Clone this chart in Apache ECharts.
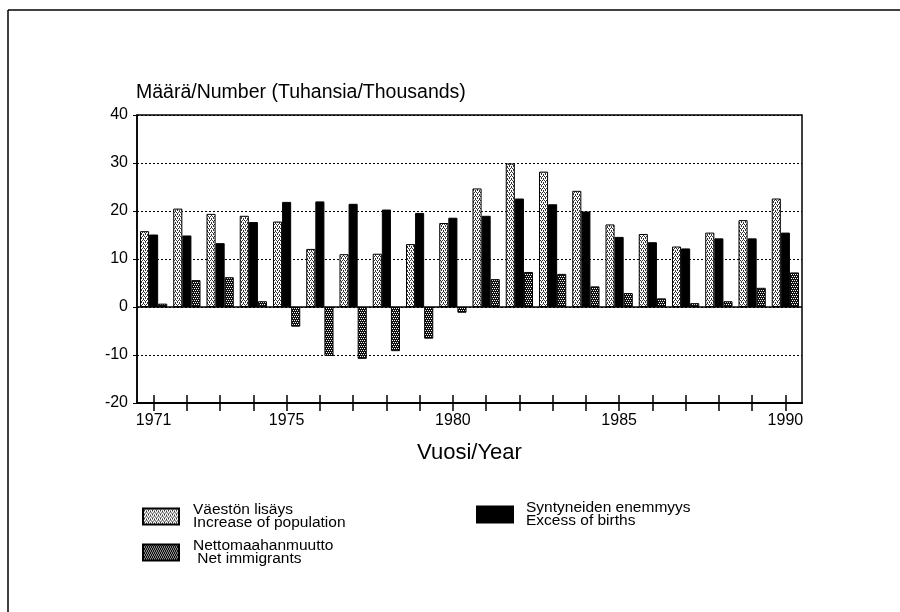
<!DOCTYPE html>
<html>
<head>
<meta charset="utf-8">
<script src="https://cdn.jsdelivr.net/npm/echarts@6/dist/echarts.min.js"></script>
<style>
  html, body { margin: 0; padding: 0; background: #fff; }
  #main { width: 900px; height: 612px; }
</style>
</head>
<body>
<div id="main"></div>
<script>
// vuodet / years
var years = ["1971", "1972", "1973", "1974", "1975", "1976", "1977", "1978", "1979", "1980",
  "1981", "1982", "1983", "1984", "1985", "1986", "1987", "1988", "1989", "1990"];
var labelYears = ["1971", "1975", "1980", "1985", "1990"];

// tuhansia / thousands
var increase = [15.8, 20.5, 19.4, 19.0, 17.8, 12.1, 11.0, 11.1, 13.1, 17.5,
  24.7, 29.9, 28.2, 24.2, 17.2, 15.2, 12.6, 15.5, 18.1, 22.6];
var births = [15.1, 14.9, 13.3, 17.7, 21.9, 22.0, 21.5, 20.3, 19.6, 18.6,
  19.0, 22.6, 21.4, 19.9, 14.6, 13.5, 12.2, 14.3, 14.3, 15.5];
var netImm = [0.7, 5.6, 6.2, 1.2, -4.1, -10.2, -10.8, -9.2, -6.6, -1.2,
  5.8, 7.3, 6.9, 4.3, 2.9, 1.8, 0.8, 1.2, 4.0, 7.2];

var yMin = -20, yMax = 40, yStep = 10;

var names = ["Väestön lisäys", "Syntyneiden enemmyys", "Nettomaahanmuutto"];
var namesEn = {
  "Väestön lisäys": "Increase of population",
  "Syntyneiden enemmyys": "Excess of births",
  "Nettomaahanmuutto": " Net immigrants"
};

var font = "'Liberation Sans', Arial, sans-serif";

// pieni rasterikuvio pylväille
function makePattern(bg, fg, dots) {
  var c = document.createElement("canvas");
  c.width = 4;
  c.height = 4;
  var ctx = c.getContext("2d");
  ctx.fillStyle = bg;
  ctx.fillRect(0, 0, 4, 4);
  ctx.fillStyle = fg;
  dots.forEach(function (d) {
    ctx.fillRect(d[0], d[1], 1, 1);
  });
  return { image: c, repeat: "repeat" };
}

var lightFill = makePattern("#fff", "#333", [[0, 0], [2, 0], [1, 1], [1, 2], [3, 2], [3, 3]]);
var darkFill = makePattern("#111", "#fff", [[0, 0], [2, 0], [1, 2], [3, 2]]);

var myChart = echarts.init(document.getElementById("main"));

var legendText = { fontFamily: font, fontSize: 15.5, lineHeight: 13, color: "#000" };

var option = {
  animation: false,
  backgroundColor: "#fff",
  textStyle: { fontFamily: font },
  title: {
    text: "Määrä/Number (Tuhansia/Thousands)",
    left: 136,
    top: 83,
    padding: 0,
    textStyle: { fontFamily: font, fontSize: 19.5, fontWeight: "normal", color: "#000" }
  },
  grid: {
    left: 137,
    top: 115,
    width: 665,
    height: 288,
    show: true,
    borderColor: "#000",
    borderWidth: 1.5
  },
  legend: [
    {
      data: [names[0], names[2]],
      orient: "vertical",
      left: 137,
      top: 497,
      icon: "rect",
      itemWidth: 36,
      itemHeight: 16,
      itemGap: 7,
      selectedMode: false,
      formatter: function (name) {
        return name + "\n" + namesEn[name];
      },
      textStyle: Object.assign({ padding: [0, 0, 0, 9] }, legendText)
    },
    {
      data: [names[1]],
      orient: "vertical",
      left: 471,
      top: 495,
      icon: "rect",
      itemWidth: 36,
      itemHeight: 16,
      selectedMode: false,
      formatter: function (name) {
        return name + "\n" + namesEn[name];
      },
      textStyle: Object.assign({ padding: [0, 0, 0, 8] }, legendText)
    }
  ],
  xAxis: [
    {
      type: "category",
      data: years,
      boundaryGap: true,
      name: "Vuosi/Year",
      nameLocation: "middle",
      nameGap: 39,
      nameTextStyle: { fontFamily: font, fontSize: 22, color: "#000" },
      axisLine: { show: true, onZero: false, lineStyle: { color: "#000", width: 2 } },
      axisTick: { show: true, alignWithLabel: true, interval: 0, length: 8, lineStyle: { color: "#000", width: 1.5 } },
      axisLabel: {
        interval: function (idx, val) {
          return labelYears.indexOf(val) >= 0;
        },
        margin: 10,
        fontFamily: font,
        fontSize: 16,
        color: "#000"
      },
      splitLine: { show: false }
    },
    {
      // sisäpuoliset tikit samaan kohtaan
      type: "category",
      data: years,
      position: "bottom",
      boundaryGap: true,
      axisLine: { show: false, onZero: false },
      axisTick: { show: true, inside: true, alignWithLabel: true, interval: 0, length: 8, lineStyle: { color: "#000", width: 1.5 } },
      axisLabel: { show: false },
      splitLine: { show: false }
    }
  ],
  yAxis: {
    type: "value",
    min: yMin,
    max: yMax,
    interval: yStep,
    axisLine: { show: true, lineStyle: { color: "#000", width: 1.5 } },
    axisTick: { show: true, length: 4, lineStyle: { color: "#000" } },
    axisLabel: { margin: 9, fontFamily: font, fontSize: 16, color: "#000" },
    splitLine: { show: true, lineStyle: { color: "#000", width: 1, type: [2, 2] } }
  },
  series: [
    {
      name: names[0],
      type: "bar",
      data: increase,
      barGap: "0%",
      barCategoryGap: "18%",
      itemStyle: { color: lightFill, borderColor: "#000", borderWidth: 1 },
      markLine: {
        silent: true,
        symbol: "none",
        label: { show: false },
        lineStyle: { color: "#000", type: "solid", width: 1.5 },
        data: [{ yAxis: 0 }]
      }
    },
    {
      name: names[1],
      type: "bar",
      data: births,
      barGap: "0%",
      barCategoryGap: "18%",
      itemStyle: { color: "#000", borderColor: "#000", borderWidth: 1 }
    },
    {
      name: names[2],
      type: "bar",
      data: netImm,
      barGap: "0%",
      barCategoryGap: "18%",
      itemStyle: { color: darkFill, borderColor: "#000", borderWidth: 1 }
    }
  ],
  graphic: [
    // kehys
    { type: "line", shape: { x1: 8, y1: 10, x2: 900, y2: 10 }, style: { stroke: "#000", lineWidth: 1.5 } },
    { type: "line", shape: { x1: 8, y1: 10, x2: 8, y2: 612 }, style: { stroke: "#000", lineWidth: 1.5 } }
  ]
};

myChart.setOption(option);
</script>
</body>
</html>
